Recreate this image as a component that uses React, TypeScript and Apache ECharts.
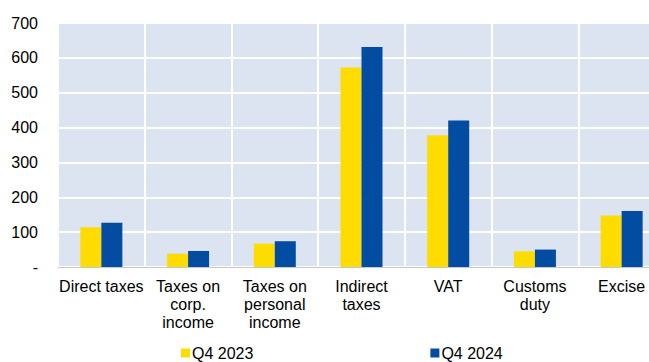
import React, { useEffect, useRef } from "react";
import * as echarts from "echarts";

const categories = [
  "Direct taxes",
  "Taxes on\ncorp.\nincome",
  "Taxes on\npersonal\nincome",
  "Indirect\ntaxes",
  "VAT",
  "Customs\nduty",
  "Excise",
];
const seriesNames = ["Q4 2023", "Q4 2024"];
const q42023 = [114, 38, 67, 572, 378, 45, 148];
const q42024 = [127, 46, 74, 631, 420, 50, 161];
const yMax = 700;
const yInterval = 100;

export default function App() {
  const ref = useRef<HTMLDivElement>(null);
  useEffect(() => {
    if (!ref.current) return;
    const chart = echarts.init(ref.current, undefined, { renderer: "svg" });
    const font = "'Liberation Sans', Arial, sans-serif";
    chart.setOption({
      animation: false,
      textStyle: { fontFamily: font },
      grid: {
        left: 58,
        right: 0,
        top: 23,
        bottom: 95,
        show: true,
        backgroundColor: "#DBE4F0",
        borderWidth: 0,
      },
      legend: {
        data: seriesNames,
        left: 181,
        top: 345,
        padding: 0,
        itemWidth: 9,
        itemHeight: 9,
        itemGap: 177,
        icon: "rect",
        textStyle: { fontSize: 16, color: "#000", fontFamily: font, padding: [0, 0, 0, -3] },
      },
      xAxis: {
        type: "category",
        data: categories,
        axisTick: { show: false },
        axisLine: { show: true, lineStyle: { color: "#C8C8C8", width: 1 } },
        axisLabel: {
          interval: 0,
          fontSize: 16,
          lineHeight: 18,
          color: "#000",
          margin: 10,
          fontFamily: font,
        },
        splitLine: { show: true, lineStyle: { color: "#FFFFFF", width: 2 } },
      },
      yAxis: {
        type: "value",
        min: 0,
        max: yMax,
        interval: yInterval,
        axisLine: { show: false },
        axisTick: { show: false },
        axisLabel: {
          fontSize: 16,
          color: "#000",
          margin: 20,
          fontFamily: font,
          formatter: (v: number) => (v === 0 ? "-" : String(v)),
        },
        splitLine: { show: true, lineStyle: { color: "#FFFFFF", width: 2 } },
      },
      series: [
        {
          name: seriesNames[0],
          type: "bar",
          data: q42023,
          barWidth: 21,
          barGap: "0%",
          itemStyle: { color: "#FFDC00" },
        },
        {
          name: seriesNames[1],
          type: "bar",
          data: q42024,
          barWidth: 21,
          barGap: "0%",
          itemStyle: { color: "#024DA1" },
        },
      ],
    });
    return () => chart.dispose();
  }, []);
  return (
    <div
      style={{
        position: "absolute",
        left: 0,
        top: 0,
        width: 649,
        height: 362,
        overflow: "hidden",
      }}
    >
      <div ref={ref} style={{ width: 665, height: 362 }} />
    </div>
  );
}
